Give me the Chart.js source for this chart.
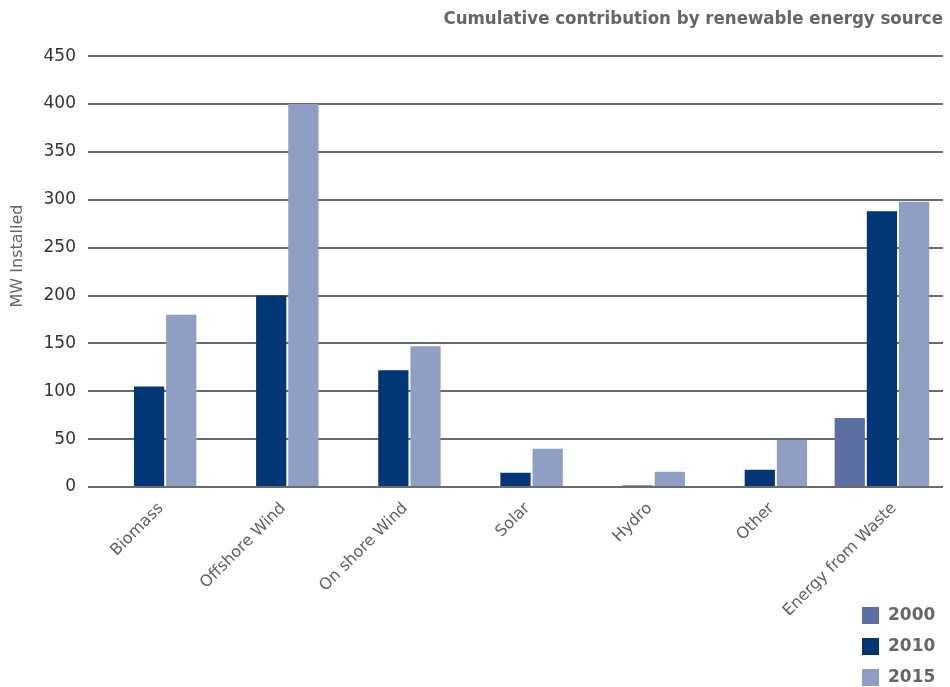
<!DOCTYPE html>
<html>
<head>
<meta charset="utf-8">
<title>Cumulative contribution by renewable energy source</title>
<script src="https://cdn.jsdelivr.net/npm/chart.js@4.4.1/dist/chart.umd.min.js"></script>
<style>
  html, body { margin: 0; padding: 0; background: #ffffff; }
  #wrap { position: relative; width: 950px; height: 687px; }
</style>
</head>
<body>
<div id="wrap"><canvas id="mwChart" width="950" height="687"></canvas></div>
<script>
/* ---------- Data ---------- */
const sources = ['Biomass', 'Offshore Wind', 'On shore Wind', 'Solar', 'Hydro', 'Other', 'Energy from Waste'];
const years   = ['2000', '2010', '2015'];
const mw2000  = [0, 0, 1, 0, 0, 0, 72];
const mw2010  = [105, 200, 122, 15, 1.5, 18, 288];
const mw2015  = [180, 400, 147, 40, 16, 49, 298];
const yTicks  = { min: 0, max: 450, step: 50 };

const seriesColors = ['#5b6fa2', '#023677', '#8f9fc4'];

/* ---------- Legend stacked in the bottom-right corner + axis title ---------- */
const cornerLegend = {
  id: 'cornerLegend',
  afterDraw(chart) {
    const ctx = chart.ctx;
    ctx.save();
    ctx.font = 'bold 17px "DejaVu Sans", sans-serif';
    ctx.textBaseline = 'middle';
    ctx.textAlign = 'left';
    chart.data.datasets.forEach((ds, i) => {
      const y = 615 + i * 31;
      ctx.fillStyle = ds.backgroundColor;
      ctx.fillRect(862, y - 8, 17, 17);
      ctx.fillStyle = '#666666';
      ctx.fillText(ds.label, 888, y + 1);
    });

    // vertical "MW Installed" title, sits a little above the plot's middle
    ctx.translate(18, 256);
    ctx.rotate(-Math.PI / 2);
    ctx.textAlign = 'center';
    ctx.font = '16px "DejaVu Sans", sans-serif';
    ctx.fillStyle = '#666666';
    ctx.fillText('MW Installed', 0, 0);
    ctx.restore();
  }
};

const datasets = [mw2000, mw2010, mw2015].map((values, i) => ({
  label: years[i],
  data: values,
  backgroundColor: seriesColors[i],
  borderWidth: 0,
  categoryPercentage: 0.79,
  barPercentage: 0.94
}));

new Chart(document.getElementById('mwChart'), {
  type: 'bar',
  data: { labels: sources, datasets },
  plugins: [cornerLegend],
  options: {
    responsive: false,
    animation: false,
    layout: { padding: { left: 0, right: 7, top: 0, bottom: 0 } },
    plugins: {
      legend: { display: false },
      tooltip: { enabled: false },
      title: {
        display: true,
        text: 'Cumulative contribution by renewable energy source',
        align: 'end',
        color: '#666666',
        font: { family: '"DejaVu Sans Condensed", "DejaVu Sans", sans-serif', size: 18.5, weight: 'bold' },
        padding: { top: 8, bottom: 26 }
      }
    },
    scales: {
      x: {
        grid: { display: false },
        border: { display: false },
        ticks: {
          color: '#606060',
          font: { family: '"DejaVu Sans", sans-serif', size: 16 },
          minRotation: 45,
          maxRotation: 45,
          labelOffset: 12,
          padding: 4
        },
        afterFit: (scale) => { scale.height = 200; }
      },
      y: {
        min: yTicks.min,
        max: yTicks.max,
        grid: { color: '#6b6b6b', lineWidth: 2, drawTicks: false },
        border: { display: false },
        ticks: {
          stepSize: yTicks.step,
          color: '#333333',
          padding: 12,
          font: { family: '"DejaVu Sans", sans-serif', size: 17 }
        },
        afterFit: (scale) => { scale.width = 88; }
      }
    }
  }
});
</script>
</body>
</html>
